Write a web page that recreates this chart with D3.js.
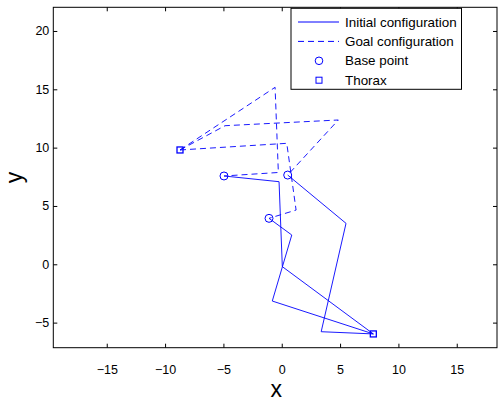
<!DOCTYPE html>
<html>
<head>
<meta charset="utf-8">
<script src="https://cdn.jsdelivr.net/npm/d3@7"></script>
<style>
  body { margin: 0; background: #fff; }
  svg { display: block; font-family: "Liberation Sans", Arial, sans-serif; }
</style>
</head>
<body>
<div class="main"></div>
<script>
// points as [x, y]
const basePoints = [[-4.95, 7.57], [0.51, 7.65], [-1.09, 3.94]]
const thoraxInitial = [7.85, -5.97]
const thoraxGoal = [-8.72, 9.80]

// each chain: thorax -> joint -> joint -> base point
const initialChains = [
    [thoraxInitial, [0.05, -0.2], [-0.23, 7.08], basePoints[0]],
    [thoraxInitial, [3.38, -5.78], [5.51, 3.51], basePoints[1]],
    [thoraxInitial, [-0.81, -3.15], [0.86, 2.51], basePoints[2]]
]
const goalChains = [
    [thoraxGoal, [-0.57, 15.17], [-0.29, 7.87], basePoints[0]],
    [thoraxGoal, [-4.86, 11.88], [4.85, 12.37], basePoints[1]],
    [thoraxGoal, [0.43, 10.37], [1.23, 4.65], basePoints[2]]
]

const xTicks = [-15, -10, -5, 0, 5, 10, 15]
const yTicks = [-5, 0, 5, 10, 15, 20]
const xDomain = [-19.58, 18.45]
const yDomain = [-7.15, 22.03]

const legendItems = ["Initial configuration", "Goal configuration", "Base point", "Thorax"]

const W = 499, H = 405
const margin = { top: 7.3, right: 2, bottom: 57.3, left: 53.3 },
    width = W - margin.left - margin.right,
    height = H - margin.top - margin.bottom;

const blue = "#0000ff"
const fmt = d => d < 0 ? "\u2212" + Math.abs(d) : d

const svg = d3.select(".main")
    .append("svg")
    .attr("width", W)
    .attr("height", H)
    .append("g")
    .attr("transform", `translate(${margin.left}, ${margin.top})`)

const x = d3.scaleLinear().domain(xDomain).range([0, width])
const y = d3.scaleLinear().domain(yDomain).range([height, 0])

const line = d3.line().x(d => x(d[0])).y(d => y(d[1]))

// axes (MATLAB style, ticks inward on all sides)
const tick = 4
svg.append("g")
    .attr("transform", `translate(0, ${height})`)
    .call(d3.axisBottom(x).tickValues(xTicks).tickSizeInner(-tick).tickSizeOuter(0).tickPadding(17.4).tickFormat(fmt))
svg.append("g")
    .call(d3.axisTop(x).tickValues(xTicks).tickSizeInner(-tick).tickSizeOuter(0).tickFormat(""))
svg.append("g")
    .call(d3.axisLeft(y).tickValues(yTicks).tickSizeInner(-tick).tickSizeOuter(0).tickPadding(4).tickFormat(fmt))
svg.append("g")
    .attr("transform", `translate(${width}, 0)`)
    .call(d3.axisRight(y).tickValues(yTicks).tickSizeInner(-tick).tickSizeOuter(0).tickFormat(""))

svg.selectAll(".domain").remove()
svg.selectAll(".tick line").attr("stroke", "#000")
svg.selectAll(".tick text").attr("fill", "#000").style("font-size", "12.5px")

// frame
svg.append("rect")
    .attr("width", width).attr("height", height)
    .attr("fill", "none").attr("stroke", "#000").attr("stroke-width", 1)

// chains
svg.selectAll(".initial")
    .data(initialChains)
    .join("path")
    .attr("d", line)
    .attr("fill", "none")
    .attr("stroke", blue)
    .attr("stroke-width", 0.9)

svg.selectAll(".goal")
    .data(goalChains)
    .join("path")
    .attr("d", line)
    .attr("fill", "none")
    .attr("stroke", blue)
    .attr("stroke-width", 0.9)
    .attr("stroke-dasharray", "6,4")

// base points
svg.selectAll(".base")
    .data(basePoints)
    .join("circle")
    .attr("cx", d => x(d[0]))
    .attr("cy", d => y(d[1]))
    .attr("r", 4)
    .attr("fill", "none")
    .attr("stroke", blue)

// thorax
const sq = 6
svg.selectAll(".thorax")
    .data([thoraxInitial, thoraxGoal])
    .join("rect")
    .attr("x", d => x(d[0]) - sq / 2)
    .attr("y", d => y(d[1]) - sq / 2)
    .attr("width", sq).attr("height", sq)
    .attr("fill", "none")
    .attr("stroke", blue)
    .attr("stroke-width", 1.3)

// axis labels (centred on the axes box like MATLAB)
svg.append("text")
    .attr("x", width / 2 + 1)
    .attr("y", 397.3 - margin.top)
    .attr("text-anchor", "middle")
    .style("font-size", "23px")
    .text("x")
svg.append("text")
    .attr("transform", `translate(${21.5 - margin.left}, ${height / 2}) rotate(-90)`)
    .attr("text-anchor", "middle")
    .style("font-size", "23px")
    .text("y")

// legend
const lg = svg.append("g").attr("transform", `translate(${291 - margin.left}, ${8.3 - margin.top})`)
lg.append("rect")
    .attr("width", 170.5).attr("height", 81)
    .attr("fill", "#fff").attr("stroke", "#000")
const rowY = i => 13.7 + i * 19.4
lg.append("line").attr("x1", 7).attr("x2", 48).attr("y1", rowY(0)).attr("y2", rowY(0)).attr("stroke", blue)
lg.append("line").attr("x1", 7).attr("x2", 48).attr("y1", rowY(1)).attr("y2", rowY(1)).attr("stroke", blue).attr("stroke-dasharray", "6,4")
lg.append("circle").attr("cx", 28).attr("cy", rowY(2)).attr("r", 3.8).attr("fill", "none").attr("stroke", blue)
lg.append("rect").attr("x", 25).attr("y", rowY(3) - 3).attr("width", 6).attr("height", 6).attr("fill", "none").attr("stroke", blue)
lg.selectAll(".ltext")
    .data(legendItems)
    .join("text")
    .attr("x", 54)
    .attr("y", (d, i) => rowY(i))
    .attr("dy", "0.35em")
    .style("font-size", "13.4px")
    .text(d => d)
</script>
</body>
</html>
